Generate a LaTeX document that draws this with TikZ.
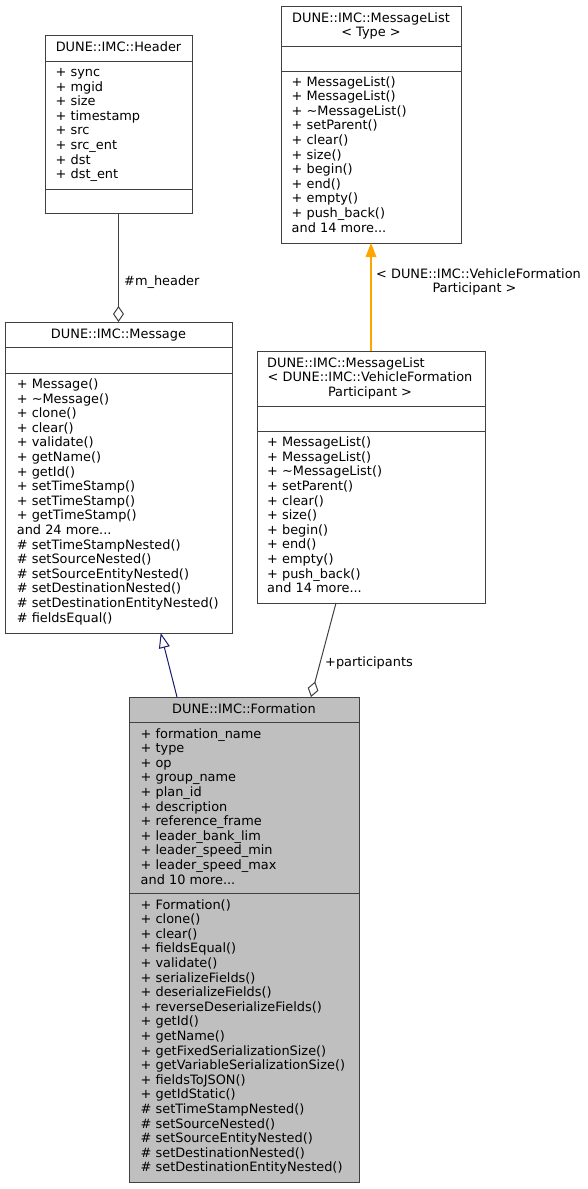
\documentclass[tikz,border=0pt]{standalone}
\usepackage{fontspec}
\setmainfont{DejaVu Sans}
\usetikzlibrary{arrows.meta}
\definecolor{edgec}{HTML}{404040}
\definecolor{navyc}{HTML}{191970}
\definecolor{orangec}{HTML}{FFA500}
\definecolor{grayfill}{HTML}{BFBFBF}
\newcommand\fsz{\fontsize{12.9}{14.6}\selectfont}
\newcommand\mdots{...}
\newcommand\memberlist[4]{%
  \foreach \t [count=\i from 0] in {#4} {\node[mtext] (#1-\i) at (#2, {#3+\i*14.6}) {\t};}}
\begin{document}
\begin{tikzpicture}[x=1pt, y=-1pt,
  box/.style={draw=edgec, line width=1pt, inner sep=0, outer sep=0},
  mtext/.style={anchor=base west, inner sep=0, font=\fsz},
  ttext/.style={anchor=base, inner sep=0, font=\fsz},
  sepline/.style={draw=edgec, line width=1pt},
  assoc/.style={draw=edgec, line width=1pt, -{Diamond[open, length=16pt, width=11pt, line width=1pt]}},
  inherit/.style={draw=navyc, line width=1pt, -{Triangle[open, length=15pt, width=11pt, line width=1pt]}},
  templ/.style={draw=orangec, fill=orangec, line width=2pt, -{Triangle[length=14pt, width=11pt, line width=0pt]}},
  ]
\useasboundingbox (0,0) rectangle (587,1189);

% Header
\node[box, minimum width=147pt, minimum height=178pt] (header) at (118.5,124) {};
\draw[sepline] (header.west |- 0,61) -- (header.east |- 0,61);
\draw[sepline] (header.west |- 0,189) -- (header.east |- 0,189);
\node[ttext] (header-title) at (118.5,51) {DUNE::IMC::Header};
\memberlist{headerattr}{55.5}{76.5}{+ sync, + mgid, + size, + timestamp, + src, + src\_ent, + dst, + dst\_ent}

% MessageList<Type>
\node[box, minimum width=180pt, minimum height=237pt] (mltype) at (371,124.5) {};
\draw[sepline] (mltype.west |- 0,46) -- (mltype.east |- 0,46);
\draw[sepline] (mltype.west |- 0,71) -- (mltype.east |- 0,71);
\node[ttext] (mltype-t1) at (371,22) {DUNE::IMC::MessageList};
\node[ttext] (mltype-t2) at (371,36.6) {< Type >};
\memberlist{mltypem}{291.5}{86}{+ MessageList(), + MessageList(), + \textasciitilde{}MessageList(), + setParent(), + clear(), + size(), + begin(), + end(), + empty(), + push\_back(), and 14 more\mdots}

% Message
\node[box, minimum width=227pt, minimum height=311pt] (message) at (118.5,477.5) {};
\draw[sepline] (message.west |- 0,347) -- (message.east |- 0,347);
\draw[sepline] (message.west |- 0,373) -- (message.east |- 0,373);
\node[ttext] (message-title) at (118.5,338) {DUNE::IMC::Message};
\memberlist{messagem}{16.7}{388.5}{+ Message(), + \textasciitilde{}Message(), + clone(), + clear(), + validate(), + getName(), + getId(), + setTimeStamp(), + setTimeStamp(), + getTimeStamp(), and 24 more\mdots, \# setTimeStampNested(), \# setSourceNested(), \# setSourceEntityNested(), \# setDestinationNested(), \# setDestinationEntityNested(), \# fieldsEqual()}

% MessageList<VehicleFormationParticipant>
\node[box, minimum width=228pt, minimum height=252pt] (mlvfp) at (371,477) {};
\draw[sepline] (mlvfp.west |- 0,406) -- (mlvfp.east |- 0,406);
\draw[sepline] (mlvfp.west |- 0,431) -- (mlvfp.east |- 0,431);
\node[mtext] (mlvfp-t1) at (267,367.3) {DUNE::IMC::MessageList};
\node[ttext] (mlvfp-t2) at (370,381.9) {< DUNE::IMC::VehicleFormation};
\node[ttext] (mlvfp-t3) at (370,396.5) {Participant >};
\memberlist{mlvfpm}{267}{446.7}{+ MessageList(), + MessageList(), + \textasciitilde{}MessageList(), + setParent(), + clear(), + size(), + begin(), + end(), + empty(), + push\_back(), and 14 more\mdots}

% Formation
\node[box, fill=grayfill, minimum width=230pt, minimum height=485pt] (formation) at (244,939.5) {};
\draw[sepline] (formation.west |- 0,722) -- (formation.east |- 0,722);
\draw[sepline] (formation.west |- 0,893) -- (formation.east |- 0,893);
\node[ttext] (formation-title) at (244,713) {DUNE::IMC::Formation};
\memberlist{formationa}{140.5}{738}{+ formation\_name, + type, + op, + group\_name, + plan\_id, + description, + reference\_frame, + leader\_bank\_lim, + leader\_speed\_min, + leader\_speed\_max, and 10 more\mdots}
\memberlist{formationm}{140.5}{909}{+ Formation(), + clone(), + clear(), + fieldsEqual(), + validate(), + serializeFields(), + deserializeFields(), + reverseDeserializeFields(), + getId(), + getName(), + getFixedSerializationSize(), + getVariableSerializationSize(), + fieldsToJSON(), + getIdStatic(), \# setTimeStampNested(), \# setSourceNested(), \# setSourceEntityNested(), \# setDestinationNested(), \# setDestinationEntityNested()}

% connectors
\draw[assoc] (header.south) -- (message.north);
\node[mtext] (lbl-mheader) at (124,285) {\#m\_header};

\path[templ, draw] (mlvfp.north) -- (mltype.south);
\node[mtext] (lbl-templ1) at (376,278.3) {< DUNE::IMC::VehicleFormation};
\node[ttext] (lbl-templ2) at (474.5,292.5) {Participant >};

\draw[inherit] ([xshift=48pt]formation.north west) -- ([xshift=155.7pt]message.south west);

\draw[assoc] ([xshift=79pt]mlvfp.south west) -- ([xshift=182pt]formation.north west);
\node[mtext] (lbl-part) at (325,666.5) {+participants};
\end{tikzpicture}
\end{document}
